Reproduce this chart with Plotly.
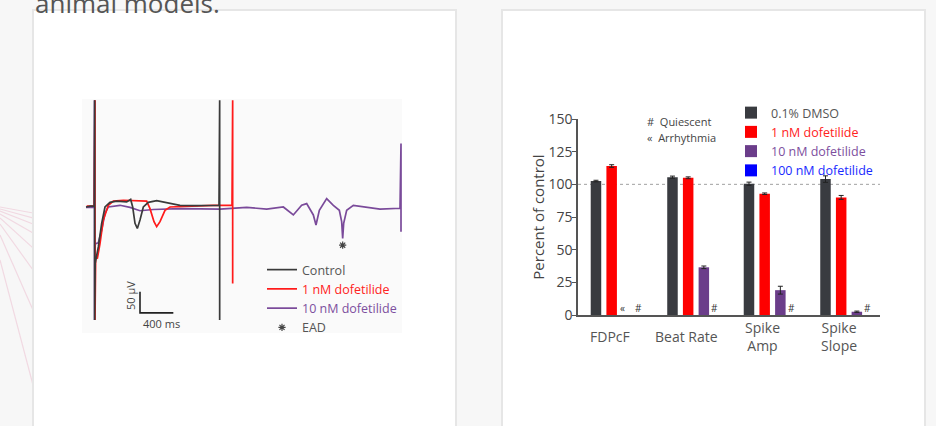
import plotly.graph_objects as go

W, H = 936, 426
FONT = "Open Sans"

# ---------------- Left panel data: field-potential traces ----------------
# time in ms, potential in µV (read from the recording)
control_t = [48, 100, 148, 152, 152, 158, 196, 236, 276, 336, 416, 536, 584, 608, 636,
             664, 696, 736, 796, 896, 1016, 1176, 1376, 1644, 1652, 1652]
control_v = [-2, 0, 0, 252, -271, -136, -97, -41, -2, 9, 12, 10, 16, -2, -41,
             -53, -33, -2, 9, 13, 8, 2, 1, 2, 252, -271]

dof1_t = [56, 148, 156, 156, 164, 184, 216, 256, 316, 376, 496, 776, 816, 864, 896,
          936, 996, 1056, 1256, 1576, 1800, 1808, 1808]
dof1_v = [0, 0, 252, -271, -121, -125, -89, -33, 2, 12, 14, 12, -6, -37, -49,
          -37, -10, -2, 0, 2, 2, 252, -184]

dof10_t = [48, 144, 150, 150, 158, 196, 236, 276, 316, 456, 576, 696, 856, 1176, 1656,
           1976, 2216, 2416, 2536, 2636, 2696, 2776, 2808, 2848, 2936, 3016, 3088, 3116,
           3128, 3140, 3176, 3256, 3376, 3576, 3816, 3828, 3828]
dof10_v = [-3, -3, 252, -271, -90, -87, -57, -17, -2, 2, -3, -11, -8, -6, -7,
           -3, -7, -2, -21, 2, 6, -21, -45, -10, 18, 2, -10, -37,
           -77, -41, -10, 2, -2, -7, -5, 149, -61]

ead_t = [3128]
ead_v = [-93]

scalebar_t = [696, 696, 1096]      # 400 ms horizontal
scalebar_v = [-204, -254, -254]    # 50 µV vertical

# ---------------- Right panel data: bar chart ----------------
groups = ["FDPcF", "Beat Rate", "Spike<br>Amp", "Spike<br>Slope"]
series = ["0.1% DMSO", "1 nM dofetilide", "10 nM dofetilide", "100 nM dofetilide"]
dmso = [102.5, 105.5, 100.5, 104.0]
dmso_err = [0.6, 0.8, 1.2, 2.5]
dof1nm = [114.0, 105.0, 92.8, 90.0]
dof1nm_err = [1.0, 0.7, 0.6, 1.5]
dof10nm = [None, 36.5, 19.0, 2.5]
dof10nm_err = [None, 1.0, 3.0, 0.5]
dof100nm = [0, 0, 0, 0]
flags = [(0, 2, "«"), (0, 3, "#"), (1, 3, "#"), (2, 3, "#"), (3, 3, "#")]
yticks = [0, 25, 50, 75, 100, 125, 150]

bar_colors = ["#393b40", "#fe0000", "#6b3d8a", "#0000ff"]
text_colors = ["#555555", "#ff2222", "#7d4f9e", "#1a2aff"]


def px(x):
    return x / W


def py(y):
    return 1 - y / H


fig = go.Figure()

# ---- traces (left) ----
fig.add_trace(go.Scatter(x=dof10_t, y=dof10_v, mode="lines",
                         line=dict(color="#7a4a9a", width=1.7),
                         name='<span style="color:#7d4f9e">10 nM dofetilide</span>',
                         legendrank=3, xaxis="x", yaxis="y", legend="legend"))
fig.add_trace(go.Scatter(x=dof1_t, y=dof1_v, mode="lines",
                         line=dict(color="#ff1a1a", width=1.7),
                         name='<span style="color:#ff2222">1 nM dofetilide</span>',
                         legendrank=2, xaxis="x", yaxis="y", legend="legend"))
fig.add_trace(go.Scatter(x=control_t, y=control_v, mode="lines",
                         line=dict(color="#3a3a3a", width=1.7),
                         name="Control", legendrank=1, xaxis="x", yaxis="y", legend="legend"))
fig.add_trace(go.Scatter(x=ead_t, y=ead_v, mode="markers",
                         marker=dict(symbol="asterisk-open", size=6, color="#444444",
                                     line=dict(color="#444444", width=1.2)),
                         name="EAD", legendrank=4, xaxis="x", yaxis="y", legend="legend"))
fig.add_trace(go.Scatter(x=scalebar_t, y=scalebar_v, mode="lines",
                         line=dict(color="#222222", width=1.6), showlegend=False,
                         xaxis="x", yaxis="y"))

# ---- bars (right) ----
vals = [dmso, dof1nm, dof10nm, dof100nm]
errs = [dmso_err, dof1nm_err, dof10nm_err, None]
for k in range(4):
    fig.add_trace(go.Bar(
        x=list(range(len(groups))), y=vals[k],
        marker=dict(color=bar_colors[k], line=dict(width=0)),
        error_y=(dict(type="data", array=errs[k], color="#222222", thickness=1, width=2.5)
                 if errs[k] else None),
        name=f'<span style="color:{text_colors[k]}">{series[k]}</span>',
        xaxis="x2", yaxis="y2", legend="legend2"))

bargap = 0.18
slot = (1 - bargap) / len(series)
offsets = [(k - (len(series) - 1) / 2) * slot for k in range(len(series))]

annotations = []
for g, k, sym in flags:
    annotations.append(dict(x=g + offsets[k] - 0.06, y=5.5, xref="x2", yref="y2", text=sym,
                            showarrow=False, font=dict(family=FONT, size=10, color="#333333")))
for g, name in enumerate(groups):
    annotations.append(dict(x=g - 0.13, y=py(336.5), xref="x2", yref="paper", text=name,
                            showarrow=False, yanchor="middle",
                            font=dict(family=FONT, size=14, color="#555555")))

annotations += [
    dict(x=px(645), y=py(121.7), xref="paper", yref="paper", text="#  Quiescent",
         xanchor="left", yanchor="middle", showarrow=False,
         font=dict(family=FONT, size=11, color="#444444")),
    dict(x=px(645), y=py(137.3), xref="paper", yref="paper", text="«  Arrhythmia",
         xanchor="left", yanchor="middle", showarrow=False,
         font=dict(family=FONT, size=11, color="#444444")),
    dict(x=576, y=-214, xref="x", yref="y", text="50 µV", textangle=-90,
         showarrow=False, font=dict(family=FONT, size=11, color="#444444")),
    dict(x=956, y=-279, xref="x", yref="y", text="400 ms",
         showarrow=False, font=dict(family=FONT, size=11, color="#444444")),
    dict(x=px(33), y=py(3), xref="paper", yref="paper", text="animal models.",
         xanchor="left", yanchor="middle", showarrow=False,
         font=dict(family=FONT, size=26, color="#555555")),
]

shapes = []
# decorative pink fan lines on slide background
fan = [(207, 213), (209, 218), (211, 224), (214, 233), (218, 248), (224, 270), (235, 310), (260, 385)]
for y0, y1 in fan:
    shapes.append(dict(type="line", xref="paper", yref="paper", x0=px(0), y0=py(y0),
                       x1=px(40), y1=py(y0 + (y1 - y0) * 40 / 33),
                       line=dict(color="#f1d9e2", width=1.2), layer="below"))
# cards
for x0, x1 in [(33, 456), (502, 925)]:
    shapes.append(dict(type="rect", xref="paper", yref="paper", x0=px(x0), x1=px(x1),
                       y0=py(440), y1=py(10), fillcolor="#ffffff",
                       line=dict(color="#e6e6e6", width=2), layer="below"))
# faint image background of trace figure
shapes.append(dict(type="rect", xref="paper", yref="paper", x0=px(82), x1=px(402),
                   y0=py(333), y1=py(99), fillcolor="#fafafa",
                   line=dict(width=0), layer="below"))
# dotted 100% reference line
shapes.append(dict(type="line", xref="x2 domain", yref="y2", x0=0, x1=1, y0=100, y1=100,
                   line=dict(color="#a0a0a0", width=1, dash="dot"), layer="below"))

fig.update_layout(
    width=W, height=H, autosize=False,
    margin=dict(l=0, r=0, t=0, b=0, autoexpand=False),
    paper_bgcolor="#f7f7f7", plot_bgcolor="rgba(0,0,0,0)",
    font=dict(family=FONT, color="#555555"),
    barmode="group", bargap=bargap, bargroupgap=0.33,
    xaxis=dict(domain=[px(82), px(402)], range=[0, 3840], visible=False, anchor="y"),
    yaxis=dict(domain=[py(333), py(99)], range=[-302, 255], visible=False, anchor="x"),
    xaxis2=dict(domain=[px(578), px(880)], range=[-0.5425, 3.405], anchor="y2",
                showline=True, linecolor="#555555", linewidth=1.5, ticks="",
                showticklabels=False, showgrid=False, zeroline=False),
    yaxis2=dict(domain=[py(315), py(119)], range=[0, 150], anchor="x2",
                tickvals=yticks, ticks="outside", ticklen=4, tickcolor="#555555",
                ticklabelstandoff=-3,
                showline=True, linecolor="#555555", linewidth=1.5,
                tickfont=dict(family=FONT, size=14, color="#444444"),
                title=dict(text="Percent of control", standoff=0,
                           font=dict(family=FONT, size=15, color="#444444")),
                showgrid=False, zeroline=False),
    legend=dict(x=px(262), y=py(255), xanchor="left", yanchor="top",
                bgcolor="rgba(0,0,0,0)", font=dict(family=FONT, size=12.5, color="#555555"),
                tracegroupgap=0, itemclick=False),
    legend2=dict(x=px(731), y=py(98), xanchor="left", yanchor="top",
                 bgcolor="rgba(0,0,0,0)", font=dict(family=FONT, size=12.5, color="#555555"),
                 tracegroupgap=0, traceorder="normal"),
    annotations=annotations,
    shapes=shapes,
    showlegend=True,
)

fig.write_html("out.html")
